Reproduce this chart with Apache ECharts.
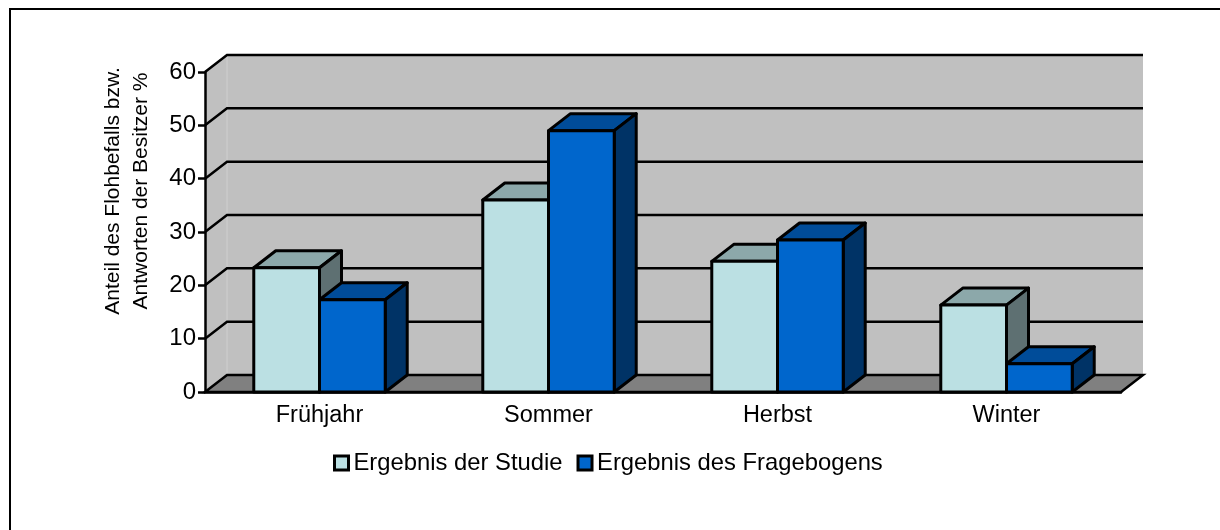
<!DOCTYPE html>
<html>
<head>
<meta charset="utf-8">
<style>
    html, body { margin: 0; padding: 0; background: #fff; }
    #chart { width: 1220px; height: 530px; }
</style>
</head>
<body>
<div id="chart"></div>
<script src="https://cdn.jsdelivr.net/npm/echarts@6/dist/echarts.min.js"></script>
<script>
const seasons = ['Frühjahr', 'Sommer', 'Herbst', 'Winter'];
const studie = [23.3, 36, 24.5, 16.3];
const fragebogen = [17.3, 49, 28.5, 5.3];
const yTicks = [0, 10, 20, 30, 40, 50, 60];
const nameStudie = 'Ergebnis der Studie';
const nameFragebogen = 'Ergebnis des Fragebogens';
const yTitle = 'Anteil des Flohbefalls bzw.\nAntworten der Besitzer %';

const font = '"Liberation Sans", Arial, sans-serif';
const depthX = 22;
const depthY = 17;
const barShare = 0.287; // Anteil einer Säule an der Kategoriebreite

const chart = echarts.init(document.getElementById('chart'));

// Rückwand, Seitenwand, Boden und die Gitterlinien
const renderWall = (params, api) => {
    const sys = params.coordSys;
    const left = sys.x;
    const right = sys.x + sys.width;
    const y = api.coord([0, api.value(1)])[1];
    const children = [];
    if (api.value(1) === 0) {
        children.push({
            type: 'polygon',
            shape: { points: [[left + depthX, sys.y - depthY], [right + depthX, sys.y - depthY], [right + depthX, y - depthY], [left + depthX, y - depthY]] },
            style: { fill: '#c0c0c0' }
        }, {
            type: 'polygon',
            shape: { points: [[left, sys.y], [left + depthX, sys.y - depthY], [left + depthX, y - depthY], [left, y]] },
            style: { fill: '#c0c0c0' }
        }, {
            type: 'line',
            shape: { x1: left + depthX, y1: sys.y - depthY, x2: left + depthX, y2: y - depthY },
            style: { stroke: '#cfcfcf', lineWidth: 1 }
        }, {
            type: 'polygon',
            shape: { points: [[left, y], [left + depthX, y - depthY], [right + depthX, y - depthY], [right, y]] },
            style: { fill: '#808080', stroke: '#000', lineWidth: 2.5 }
        });
    } else {
        children.push({
            type: 'polyline',
            shape: { points: [[left, y], [left + depthX, y - depthY], [right + depthX, y - depthY]] },
            style: { fill: 'none', stroke: '#000', lineWidth: 2.5 }
        });
    }
    return { type: 'group', children };
};

// Quader aus Vorderseite, Deckel und rechter Seite
const makeRenderBar = (side, colors) => (params, api) => {
    const base = api.coord([api.value(0), 0]);
    const top = api.coord([api.value(0), api.value(1)]);
    const w = api.size([1, 0])[0] * barShare;
    const x0 = side === 0 ? base[0] - w : base[0];
    const x1 = x0 + w;
    const border = { stroke: '#000', lineWidth: 3, lineJoin: 'round' };
    return {
        type: 'group',
        children: [
            {
                type: 'polygon',
                shape: { points: [[x0, top[1]], [x0 + depthX, top[1] - depthY], [x1 + depthX, top[1] - depthY], [x1, top[1]]] },
                style: { fill: colors.top, ...border }
            },
            {
                type: 'polygon',
                shape: { points: [[x1, top[1]], [x1 + depthX, top[1] - depthY], [x1 + depthX, base[1] - depthY], [x1, base[1]]] },
                style: { fill: colors.side, ...border }
            },
            {
                type: 'rect',
                shape: { x: x0, y: top[1], width: w, height: base[1] - top[1] },
                style: { fill: colors.front, ...border }
            }
        ]
    };
};

const option = {
    animation: false,
    backgroundColor: '#fff',
    textStyle: { fontFamily: font },
    grid: { left: 205, top: 72, width: 916, height: 320 },
    legend: {
        left: 333,
        top: 451,
        padding: 0,
        itemWidth: 14,
        itemHeight: 14,
        itemGap: 14,
        icon: 'rect',
        data: [nameStudie, nameFragebogen],
        itemStyle: { borderColor: '#000', borderWidth: 3 },
        textStyle: { fontFamily: font, fontSize: 23.8, color: '#000' }
    },
    xAxis: {
        type: 'category',
        data: seasons,
        z: 5,
        axisLine: { lineStyle: { color: '#000', width: 2.5 } },
        axisTick: { show: false },
        axisLabel: { fontFamily: font, fontSize: 23.5, color: '#000', margin: 12 }
    },
    yAxis: {
        type: 'value',
        min: 0,
        max: 60,
        interval: 10,
        z: 5,
        axisLine: { show: true, lineStyle: { color: '#000', width: 2.5 } },
        axisTick: { show: true, length: 7, lineStyle: { color: '#000', width: 2.5 } },
        axisLabel: { fontFamily: font, fontSize: 24, color: '#000', margin: 9 },
        splitLine: { show: false }
    },
    graphic: [
        {
            type: 'rect',
            shape: { x: 10, y: 9, width: 1300, height: 600 },
            style: { fill: 'none', stroke: '#000', lineWidth: 2 },
            silent: true
        },
        {
            type: 'text',
            x: 127,
            y: 191,
            rotation: Math.PI / 2,
            style: {
                text: yTitle,
                font: '21px ' + font,
                fill: '#000',
                align: 'center',
                verticalAlign: 'middle',
                lineHeight: 28
            }
        }
    ],
    series: [
        {
            type: 'custom',
            name: 'wand',
            data: yTicks.map(t => [0, t]),
            renderItem: renderWall,
            silent: true,
            z: 1
        },
        {
            type: 'custom',
            name: nameStudie,
            data: seasons.map((s, i) => [i, studie[i]]),
            itemStyle: { color: '#BBE0E3' },
            renderItem: makeRenderBar(0, { front: '#BBE0E3', top: '#8CA8AA', side: '#5E7072' }),
            z: 2
        },
        {
            type: 'custom',
            name: nameFragebogen,
            data: seasons.map((s, i) => [i, fragebogen[i]]),
            itemStyle: { color: '#0066CC' },
            renderItem: makeRenderBar(1, { front: '#0066CC', top: '#004C99', side: '#003366' }),
            z: 3
        }
    ]
};

chart.setOption(option);
</script>
</body>
</html>
